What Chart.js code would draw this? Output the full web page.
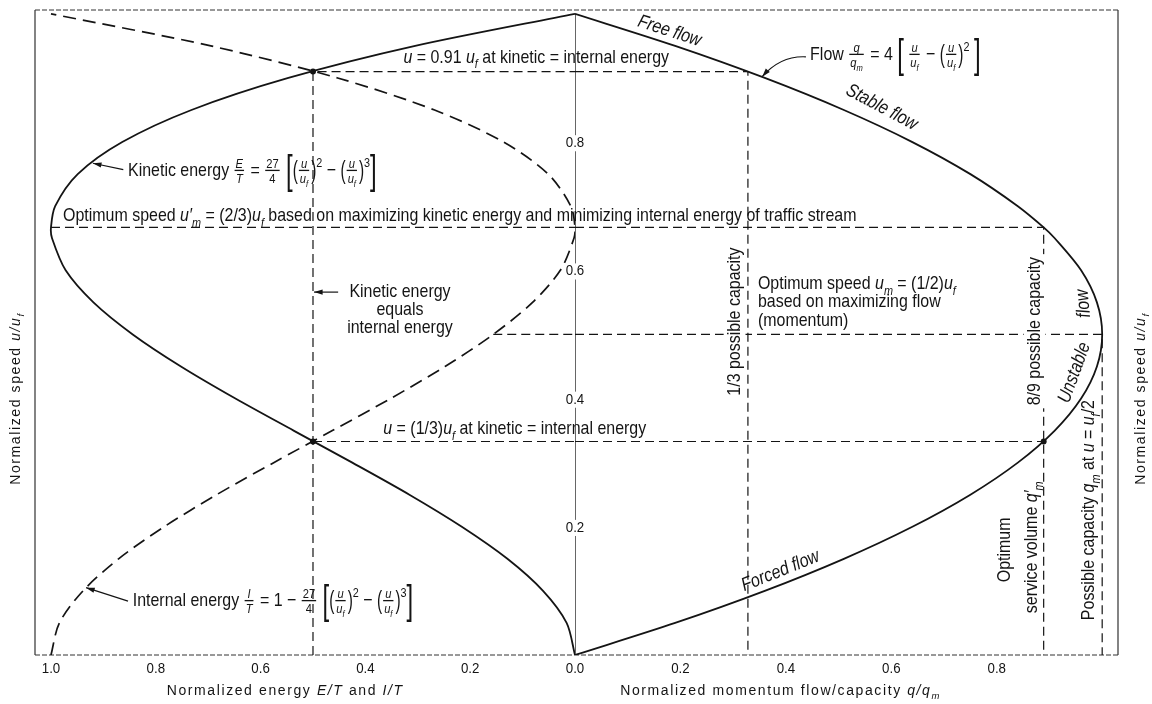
<!DOCTYPE html>
<html>
<head>
<meta charset="utf-8">
<title>Speed, flow and energy of a traffic stream</title>
<script src="https://cdn.jsdelivr.net/npm/chart.js@4.4.0/dist/chart.umd.min.js"></script>
<style>
    html, body { margin: 0; padding: 0; background: #fff; }
</style>
</head>
<body>
<canvas id="speedChart" width="1152" height="704"></canvas>
<script>
/* ========================================================================
   Normalized speed vs. flow and energy of a traffic stream
   ======================================================================== */

// normalized speed u/uf
const speeds   = [0, 0.05, 0.10, 0.15, 0.20, 0.25, 0.30, 0.35, 0.40, 0.45, 0.50, 0.55, 0.60, 0.65, 0.667, 0.70, 0.75, 0.80, 0.85, 0.90, 0.95, 1.0];
const flow     = [0, 0.19, 0.36, 0.51, 0.64, 0.75, 0.84, 0.91, 0.96, 0.99, 1.00, 0.99, 0.96, 0.91, 0.889, 0.84, 0.75, 0.64, 0.51, 0.36, 0.19, 0];
const kinetic  = [0, 0.016, 0.061, 0.129, 0.216, 0.316, 0.425, 0.537, 0.648, 0.752, 0.844, 0.919, 0.972, 0.998, 1.0, 0.992, 0.949, 0.864, 0.732, 0.547, 0.305, 0];
const internal = [1, 0.984, 0.939, 0.871, 0.784, 0.684, 0.575, 0.463, 0.352, 0.248, 0.156, 0.081, 0.028, 0.002, 0, 0.008, 0.051, 0.136, 0.268, 0.453, 0.695, 1];

// reference values for the dashed guide lines
const crossSpeeds = [0.333, 0.91];          // kinetic = internal energy
const crossEnergy = 0.5;
const optSpeedEnergy = 0.667;               // max kinetic energy
const optSpeedFlow = 0.5;                   // max flow
const capacityShares = [0.328, 0.889, 1.0]; // q/qm at u = 0.91, 2/3 (and 1/3), 1/2
const internalAtHalf = 0.156;

// tick labels
const energyTicks = [1.0, 0.8, 0.6, 0.4, 0.2];
const flowTicks = [0.0, 0.2, 0.4, 0.6, 0.8];
const speedTicks = [0.2, 0.4, 0.6, 0.8];

const FONT = '"Liberation Sans", Arial, sans-serif';
const INK = '#141414';

// markup: ~ toggles italic, _x subscript, ^x superscript
function seq(ctx, s, size, x, y, draw, o) {
    const sx = o.sx || 0.84, ls = o.ls || 0;
    let w = 0, it = false;
    for (let i = 0; i < s.length; i++) {
        let c = s[i], sz = size, dy = 0, ital = it;
        if (c === '~') { it = !it; continue; }
        if (c === '_') { c = s[++i]; sz = size * 0.68; dy = size * 0.3; ital = true; }
        else if (c === '^') { c = s[++i]; sz = size * 0.68; dy = -size * 0.48; }
        ctx.font = (ital ? 'italic ' : '') + sz.toFixed(1) + 'px ' + FONT;
        const cw = ctx.measureText(c).width * sx;
        if (draw) {
            ctx.save(); ctx.translate(x + w, y + dy); ctx.scale(sx, 1); ctx.fillText(c, 0, 0); ctx.restore();
        }
        w += cw + ls;
    }
    return w;
}

function rich(ctx, parts, x, y, o = {}) {
    const size = o.size || 19;
    const list = Array.isArray(parts) ? parts : [parts];
    const run = (x0, draw) => {
        let w = 0;
        for (const p of list) {
            if (typeof p === 'string') { w += seq(ctx, p, size, x0 + w, y, draw, o); continue; }
            if (p.fr) {
                const fs = size * 0.7, bar = y - size * 0.3;
                const wn = seq(ctx, p.fr[0], fs, 0, 0, false, o), wd = seq(ctx, p.fr[1], fs, 0, 0, false, o);
                const fw = Math.max(wn, wd) + 4;
                if (draw) {
                    seq(ctx, p.fr[0], fs, x0 + w + (fw - wn) / 2, bar - 2.5, true, o);
                    seq(ctx, p.fr[1], fs, x0 + w + (fw - wd) / 2, bar + fs * 0.75 + 2.5, true, o);
                    ctx.fillRect(x0 + w + 1, bar - 0.6, fw - 2, 1.3);
                }
                w += fw + 1;
            } else if (p.br) {
                const s = p.s || 2.1;
                w += seq(ctx, p.br, size * s, x0 + w, y + size * (s - 1) * 0.38, draw, { sx: 0.6 });
            }
        }
        return w;
    };
    const w = run(0, false);
    const x0 = o.align === 'left' ? x : x - w / 2;
    if (o.bg) {
        ctx.save(); ctx.fillStyle = '#fff';
        ctx.fillRect(x0 - 3, y - size * 0.85, w + 6, size * 1.15);
        ctx.restore();
    }
    run(x0, true);
}

function note(ctx, parts, x, y, o = {}) {
    if (!o.rot) return rich(ctx, parts, x, y, o);
    ctx.save();
    ctx.translate(x, y);
    ctx.rotate(o.rot * Math.PI / 180);
    rich(ctx, parts, 0, (o.size || 19) * 0.35, o);
    ctx.restore();
}

function arrow(ctx, x1, y1, x2, y2, cx, cy) {
    ctx.beginPath();
    ctx.moveTo(x1, y1);
    if (cx !== undefined) ctx.quadraticCurveTo(cx, cy, x2, y2); else ctx.lineTo(x2, y2);
    ctx.stroke();
    const fx = cx !== undefined ? cx : x1, fy = cy !== undefined ? cy : y1;
    const a = Math.atan2(y2 - fy, x2 - fx);
    ctx.beginPath();
    ctx.moveTo(x2, y2);
    ctx.lineTo(x2 - 9 * Math.cos(a - 0.3), y2 - 9 * Math.sin(a - 0.3));
    ctx.lineTo(x2 - 9 * Math.cos(a + 0.3), y2 - 9 * Math.sin(a + 0.3));
    ctx.closePath();
    ctx.fill();
}

const energyBracket = [{ br: '[' }, { br: '(', s: 1.35 }, { fr: ['~u~', '~u~_f'] }, { br: ')', s: 1.35 }, '^2 − ',
    { br: '(', s: 1.35 }, { fr: ['~u~', '~u~_f'] }, { br: ')', s: 1.35 }, '^3', { br: ']' }];
const kineticLabel = ['Kinetic energy ', { fr: ['~E~', '~T~'] }, ' = ', { fr: ['27', '4'] }, ' '].concat(energyBracket);
const internalLabel = ['Internal energy ', { fr: ['~I~', '~T~'] }, ' = 1 − ', { fr: ['27', '4'] }, ' '].concat(energyBracket);
const flowLabel = ['Flow ', { fr: ['~q~', '~q~_m'] }, ' = 4 ', { br: '[' }, ' ', { fr: ['~u~', '~u~_f'] }, ' − ',
    { br: '(', s: 1.35 }, { fr: ['~u~', '~u~_f'] }, { br: ')', s: 1.35 }, '^2 ', { br: ']' }];

const notesPlugin = {
    id: 'notes',
    beforeDatasetsDraw(chart) {
        const { ctx, chartArea: a } = chart;
        ctx.save();
        ctx.strokeStyle = '#333';
        ctx.lineWidth = 1.2;
        ctx.beginPath();
        ctx.moveTo(a.left, a.top); ctx.lineTo(a.left, a.bottom);
        ctx.moveTo(a.right, a.top); ctx.lineTo(a.right, a.bottom);
        ctx.stroke();
        ctx.setLineDash([5, 2]);
        ctx.lineWidth = 1;
        ctx.beginPath();
        ctx.moveTo(a.left, a.top); ctx.lineTo(a.right, a.top);
        ctx.moveTo(a.left, a.bottom); ctx.lineTo(a.right, a.bottom);
        ctx.stroke();
        ctx.restore();
    },
    afterDatasetsDraw(chart) {
        const { ctx, chartArea: a, scales } = chart;
        const E = v => scales.xE.getPixelForValue(v), Q = v => scales.xQ.getPixelForValue(v), Y = v => scales.y.getPixelForValue(v);
        ctx.save();
        ctx.fillStyle = INK;
        ctx.strokeStyle = INK;
        ctx.lineWidth = 1.2;
        ctx.textBaseline = 'alphabetic';
        ctx.textAlign = 'left';

        // ticks
        const tk = { size: 14, sx: 0.95 };
        energyTicks.forEach(v => rich(ctx, v.toFixed(1), E(v), a.bottom + 18, tk));
        flowTicks.forEach(v => rich(ctx, v.toFixed(1), Q(v), a.bottom + 18, tk));
        speedTicks.forEach(v => rich(ctx, v.toFixed(1), Q(0), Y(v) + 5, { size: 14, sx: 0.95, bg: true }));

        // axis titles
        const tt = { size: 14, sx: 1, ls: 1.6 };
        rich(ctx, 'Normalized energy ~E/T~ and ~I/T~', E(0.553), a.bottom + 40, tt);
        rich(ctx, 'Normalized momentum flow/capacity ~q/q~_m', Q(0.39), a.bottom + 40, tt);
        note(ctx, 'Normalized speed ~u/u~_f', a.left - 20, Y(0.4), Object.assign({ rot: -90 }, tt));
        note(ctx, 'Normalized speed ~u/u~_f', a.right + 22, Y(0.4), Object.assign({ rot: -90 }, tt));

        // labels with a white ground
        note(ctx, '1/3 possible capacity', Q(0.300), Y(0.520), { rot: -90, bg: true });
        note(ctx, '8/9 possible capacity', Q(0.869), Y(0.505), { rot: -90, bg: true });

        // curve names
        note(ctx, '~Free flow~', Q(0.18), Y(0.975), { rot: 18 });
        note(ctx, '~Stable flow~', Q(0.583), Y(0.856), { rot: 28 });
        note(ctx, '~Forced flow~', Q(0.389), Y(0.133), { rot: -22 });
        note(ctx, '~Unstable~', Q(0.945), Y(0.441), { rot: -70 });
        note(ctx, '~flow~', Q(0.962), Y(0.548), { rot: -95 });

        // equations and notes
        rich(ctx, '~u~ = 0.91 ~u~_f at kinetic = internal energy', E(0.074), Y(0.924));
        rich(ctx, flowLabel, Q(0.446), Y(0.928), { align: 'left' });
        rich(ctx, kineticLabel, E(0.853), Y(0.747), { align: 'left' });
        rich(ctx, 'Optimum speed ~u′~_m = (2/3)~u~_f based on maximizing kinetic energy and minimizing internal energy of traffic stream',
            E(0.977), Y(0.677), { align: 'left' });
        ['Kinetic energy', 'equals', 'internal energy'].forEach((t, i) => rich(ctx, t, E(0.334), Y(0.558 - i * 0.028)));
        ['Optimum speed ~u~_m = (1/2)~u~_f', 'based on maximizing flow', '(momentum)']
            .forEach((t, i) => rich(ctx, t, Q(0.347), Y(0.571 - i * 0.029), { align: 'left' }));
        rich(ctx, '~u~ = (1/3)~u~_f at kinetic = internal energy', E(0.115), Y(0.345));
        rich(ctx, internalLabel, E(0.844), Y(0.076), { align: 'left' });
        note(ctx, 'Possible capacity ~q~_m at ~u~ = ~u~_f/2', Q(0.972), Y(0.226), { rot: -90 });
        note(ctx, 'Optimum', Q(0.812), Y(0.164), { rot: -90 });
        note(ctx, 'service volume ~q′~_m', Q(0.864), Y(0.168), { rot: -90 });

        // arrows
        arrow(ctx, E(0.862), Y(0.757), E(0.92), Y(0.767));
        arrow(ctx, E(0.853), Y(0.084), E(0.933), Y(0.105));
        arrow(ctx, E(0.452), Y(0.566), E(0.498), Y(0.566));
        arrow(ctx, Q(0.438), Y(0.933), Q(0.355), Y(0.902), Q(0.39), Y(0.935));
        ctx.restore();
    }
};

const curve = (ax, xs, extra) => Object.assign({
    xAxisID: ax, yAxisID: 'y', showLine: true, pointRadius: 0, borderColor: INK,
    borderWidth: 1.8, tension: 0.3, fill: false,
    data: xs.map((x, i) => ({ x, y: speeds[i] }))
}, extra);

const guides = [
    ['xE', [[crossEnergy, 0], [crossEnergy, crossSpeeds[1]], [0, crossSpeeds[1]]]],
    ['xQ', [[0, crossSpeeds[1]], [capacityShares[0], crossSpeeds[1]], [capacityShares[0], 0]]],
    ['xE', [[1.0, optSpeedEnergy], [0, optSpeedEnergy]]],
    ['xQ', [[0, optSpeedEnergy], [capacityShares[1], optSpeedEnergy], [capacityShares[1], 0]]],
    ['xE', [[internalAtHalf, optSpeedFlow], [0, optSpeedFlow]]],
    ['xQ', [[0, optSpeedFlow], [capacityShares[2], optSpeedFlow], [capacityShares[2], 0]]],
    ['xE', [[crossEnergy, crossSpeeds[0]], [0, crossSpeeds[0]]]],
    ['xQ', [[0, crossSpeeds[0]], [capacityShares[1], crossSpeeds[0]]]]
].map(([ax, pts]) => ({
    xAxisID: ax, yAxisID: 'y', showLine: true, pointRadius: 0, borderColor: INK,
    borderWidth: 1.2, borderDash: [9, 5], tension: 0,
    data: pts.map(([x, y]) => ({ x, y }))
}));

const datasets = [
    curve('xQ', flow),
    curve('xE', kinetic),
    curve('xE', internal, { borderDash: [13, 7], borderWidth: 1.7 }),
    ...guides,
    { xAxisID: 'xQ', yAxisID: 'y', showLine: true, pointRadius: 0, borderColor: INK, borderWidth: 1.3,
      data: [{ x: 0, y: 0 }, { x: 0, y: 1 }] },
    { xAxisID: 'xE', yAxisID: 'y', pointRadius: 3, pointBackgroundColor: INK, pointBorderWidth: 0,
      data: [{ x: crossEnergy, y: crossSpeeds[1] }, { x: crossEnergy, y: crossSpeeds[0] }] },
    { xAxisID: 'xQ', yAxisID: 'y', pointRadius: 3, pointBackgroundColor: INK, pointBorderWidth: 0,
      data: [{ x: capacityShares[1], y: crossSpeeds[0] }] }
];

new Chart(document.getElementById('speedChart'), {
    type: 'scatter',
    data: { datasets },
    options: {
        responsive: false,
        animation: false,
        events: [],
        layout: { padding: { left: 35, right: 34, top: 10, bottom: 49 } },
        plugins: { legend: { display: false }, tooltip: { enabled: false } },
        scales: {
            xE: { type: 'linear', position: 'bottom', stack: 'x', stackWeight: 540, reverse: true, min: 0, max: 1.0305, display: false },
            xQ: { type: 'linear', position: 'bottom', stack: 'x', stackWeight: 543, min: 0, max: 1.03, display: false },
            y: { type: 'linear', position: 'left', min: 0, max: 1.006, display: false }
        }
    },
    plugins: [notesPlugin]
});
</script>
</body>
</html>
